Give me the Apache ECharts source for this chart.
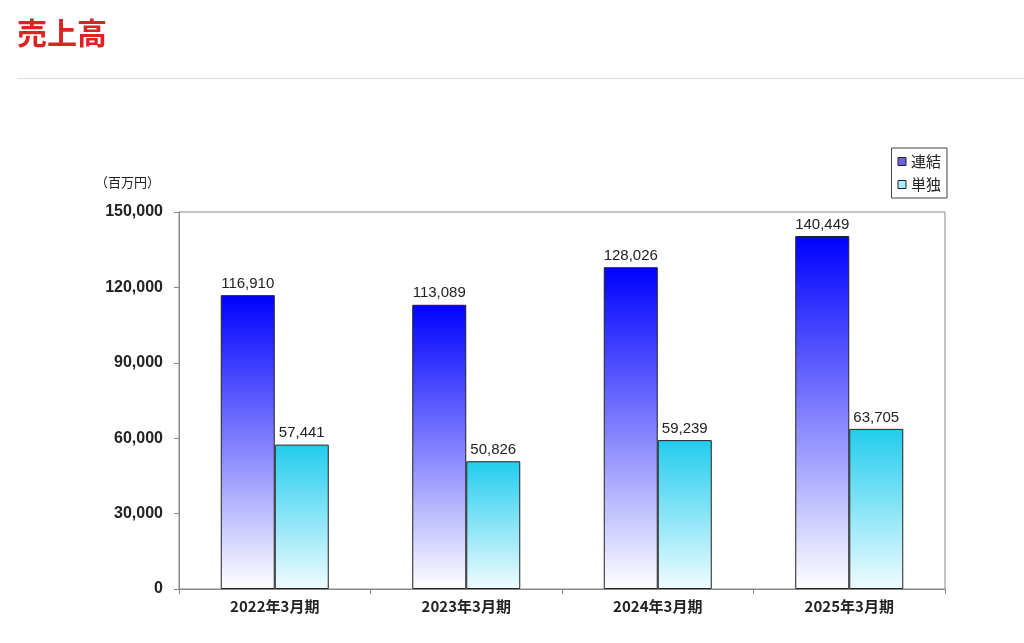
<!DOCTYPE html><html><head><meta charset="utf-8"><script src="https://cdn.jsdelivr.net/npm/echarts@6/dist/echarts.min.js"></script>
<style>body{margin:0;background:#fff}#c{width:1024px;height:643px}</style></head><body><div id="c"></div><script>
const categories=['2022年3月期','2023年3月期','2024年3月期','2025年3月期'];
const consolidated=[116910,113089,128026,140449];
const standalone=[57441,50826,59239,63705];
const yTicks=[0,30000,60000,90000,120000,150000];
const F='"Noto Sans CJK JP",sans-serif';
const fmt=v=>v.toLocaleString('en-US');
const chart=echarts.init(document.getElementById('c'));
chart.setOption({
 animation:false,
 graphic:[
  {type:'text',left:17,top:18,style:{text:'売上高',fill:'#dd2222',font:'bold 30px '+F}},
  {type:'rect',shape:{x:17,y:78,width:1007,height:1},style:{fill:'#dddddd'}},
  {type:'text',left:95,top:176,style:{text:'（百万円）',fill:'#222',font:'13px '+F}}
 ],
 legend:{right:77,top:148,orient:'vertical',itemWidth:8,itemHeight:8,itemGap:8,padding:[6,6,6,6],
  borderColor:'#444',borderWidth:1,textStyle:{fontFamily:F,fontSize:15,color:'#222'},icon:'rect',
  data:[{name:'連結',itemStyle:{color:'#6666dd',borderColor:'#222',borderWidth:1}},{name:'単独',itemStyle:{color:'#aaeeff',borderColor:'#222',borderWidth:1}}]},
 grid:{left:179,right:79,top:212,bottom:54,show:true,borderColor:'#888',borderWidth:1},
 xAxis:{type:'category',data:categories,axisLine:{lineStyle:{color:'#888'}},axisTick:{show:true,length:5,lineStyle:{color:'#888'}},
  axisLabel:{fontFamily:F,fontSize:15,fontWeight:'bold',color:'#222',margin:10}},
 yAxis:{type:'value',min:0,max:150000,interval:30000,splitLine:{show:false},
  axisLine:{show:true,lineStyle:{color:'#888'}},axisTick:{show:true,length:5,lineStyle:{color:'#888'}},
  axisLabel:{fontFamily:'Arial,"Liberation Sans",sans-serif',fontSize:16,fontWeight:'bold',color:'#222',margin:16,formatter:v=>fmt(v)}},
 series:[
  {name:'連結',type:'bar',data:consolidated,barWidth:54,barGap:'0%',
   itemStyle:{borderColor:'#222',borderWidth:1,color:new echarts.graphic.LinearGradient(0,0,0,1,[{offset:0,color:'#0000ff'},{offset:1,color:'#ffffff'}])},
   label:{show:true,position:'top',distance:4,fontFamily:'Arial,"Liberation Sans",sans-serif',fontSize:15,color:'#222',formatter:p=>fmt(p.value)}},
  {name:'単独',type:'bar',data:standalone,barWidth:54,
   itemStyle:{borderColor:'#222',borderWidth:1,color:new echarts.graphic.LinearGradient(0,0,0,1,[{offset:0,color:'#22ccee'},{offset:1,color:'#f0fcff'}])},
   label:{show:true,position:'top',distance:4,fontFamily:'Arial,"Liberation Sans",sans-serif',fontSize:15,color:'#222',formatter:p=>fmt(p.value)}}
 ]
});
</script></body></html>
